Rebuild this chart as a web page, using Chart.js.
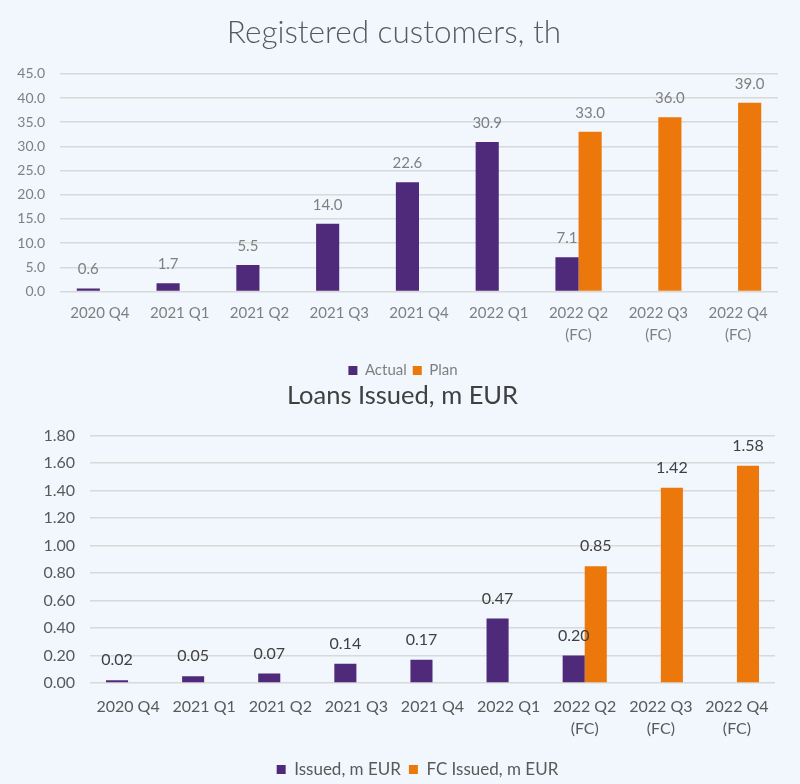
<!DOCTYPE html>
<html>
<head>
<meta charset="utf-8">
<script src="https://cdn.jsdelivr.net/npm/chart.js@4"></script>
<style>
  html, body { margin: 0; padding: 0; background: #f1f7fd; }
  #wrap { position: relative; width: 800px; height: 784px; background: #f1f7fd; overflow: hidden; }
  canvas { position: absolute; left: 0; }
  #top { top: 0; }
  #bottom { top: 380px; }
</style>
</head>
<body>
<div id="wrap">
  <canvas id="top" width="800" height="388"></canvas>
  <canvas id="bottom" width="800" height="408"></canvas>
</div>
<script>
const quarters = ['2020 Q4', '2021 Q1', '2021 Q2', '2021 Q3', '2021 Q4', '2022 Q1',
  ['2022 Q2', '(FC)'], ['2022 Q3', '(FC)'], ['2022 Q4', '(FC)']];

const actualCustomers = [0.6, 1.7, 5.5, 14.0, 22.6, 30.9, 7.1, null, null];
const planCustomers = [null, null, null, null, null, null, 33.0, 36.0, 39.0];

const loansIssued = [0.02, 0.05, 0.07, 0.14, 0.17, 0.47, 0.20, null, null];
const loansFcIssued = [null, null, null, null, null, null, 0.85, 1.42, 1.58];

const PURPLE = '#4f2a7b';
const ORANGE = '#ec770a';
const FONT = "Lato, 'Liberation Sans', sans-serif";

// small replacement for the datalabels plugin
const barLabels = {
  id: 'barLabels',
  afterLayout(chart, args, opts) {
    // nudge the legend sideways, the original is not centred on the canvas
    if (chart.legend && opts.legendShift) {
      chart.legend.left += opts.legendShift;
      chart.legend.right += opts.legendShift;
    }
  },
  afterDatasetsDraw(chart, args, opts) {
    const ctx = chart.ctx;
    ctx.save();
    ctx.font = opts.size + 'px ' + FONT;
    ctx.fillStyle = opts.color;
    ctx.textAlign = 'center';
    ctx.textBaseline = 'middle';
    chart.data.datasets.forEach((ds, i) => {
      const meta = chart.getDatasetMeta(i);
      meta.data.forEach((bar, j) => {
        const v = ds.data[j];
        if (v === null || v === undefined) return;
        ctx.fillText(v.toFixed(opts.decimals), bar.x, bar.y - opts.offset);
      });
    });
    ctx.restore();
  }
};

function makeChart(el, cfg) {
  return new Chart(el, {
    type: 'bar',
    data: {
      labels: quarters,
      datasets: [
        { label: cfg.names[0], data: cfg.series[0], backgroundColor: PURPLE },
        { label: cfg.names[1], data: cfg.series[1], backgroundColor: ORANGE },
      ],
    },
    options: {
      responsive: false,
      animation: false,
      categoryPercentage: 0.58,
      barPercentage: 1,
      layout: { padding: cfg.padding },
      plugins: {
        title: {
          display: true,
          text: cfg.title,
          color: cfg.titleColor,
          font: { family: FONT, size: cfg.titleSize, weight: cfg.titleWeight },
          padding: cfg.titlePadding,
        },
        legend: {
          position: 'bottom',
          labels: {
            color: cfg.textColor,
            font: { family: FONT, size: cfg.legendSize },
            boxWidth: 9,
            boxHeight: 9,
            padding: cfg.legendPad,
          },
        },
        tooltip: { enabled: false },
        barLabels: {
          size: cfg.labelSize, color: cfg.labelColor, offset: cfg.labelOffset,
          decimals: cfg.decimals, legendShift: cfg.legendShift,
        },
      },
      scales: {
        x: {
          grid: { display: false, drawTicks: false },
          border: { display: false },
          ticks: {
            color: cfg.textColor,
            font: { family: FONT, size: cfg.tickSize, lineHeight: cfg.tickLine },
            maxRotation: 0,
            padding: cfg.xPad,
          },
        },
        y: {
          min: 0,
          max: cfg.max,
          ticks: {
            stepSize: cfg.step,
            color: cfg.textColor,
            font: { family: FONT, size: cfg.yTickSize },
            padding: cfg.yPad,
            callback: v => v.toFixed(cfg.decimals),
          },
          grid: { color: '#d9d9d9', lineWidth: 1.5, drawTicks: false },
          border: { display: false },
          afterFit: s => { s.width = cfg.yWidth; },
        },
      },
    },
    plugins: [barLabels],
  });
}

makeChart(document.getElementById('top'), {
  title: 'Registered customers, th',
  titleSize: 31.5, titleWeight: 300, titleColor: '#595959',
  titlePadding: { top: 14, bottom: 22 },
  names: ['Actual', 'Plan'],
  series: [actualCustomers, planCustomers],
  max: 45, step: 5, decimals: 1,
  textColor: '#7f7f7f', tickSize: 15, tickLine: 1.45, yTickSize: 14, legendSize: 15,
  legendPad: 6, legendShift: 9,
  labelSize: 15, labelColor: '#7f7f7f', labelOffset: 19,
  padding: { left: 10, right: 22, top: 0, bottom: 0 },
  yWidth: 50, yPad: 15, xPad: 11,
});

makeChart(document.getElementById('bottom'), {
  title: 'Loans Issued, m EUR',
  titleSize: 25.5, titleWeight: 'normal', titleColor: '#404040',
  titlePadding: { top: 0, bottom: 25 },
  names: ['Issued, m EUR', 'FC Issued, m EUR'],
  series: [loansIssued, loansFcIssued],
  max: 1.8, step: 0.2, decimals: 2,
  textColor: '#595959', tickSize: 16, tickLine: 1.375, yTickSize: 16, legendSize: 17,
  legendPad: 8, legendShift: 15,
  labelSize: 16, labelColor: '#404040', labelOffset: 20,
  padding: { left: 30, right: 25, top: 0, bottom: 0 },
  yWidth: 60, yPad: 15, xPad: 13,
});
</script>
</body>
</html>
